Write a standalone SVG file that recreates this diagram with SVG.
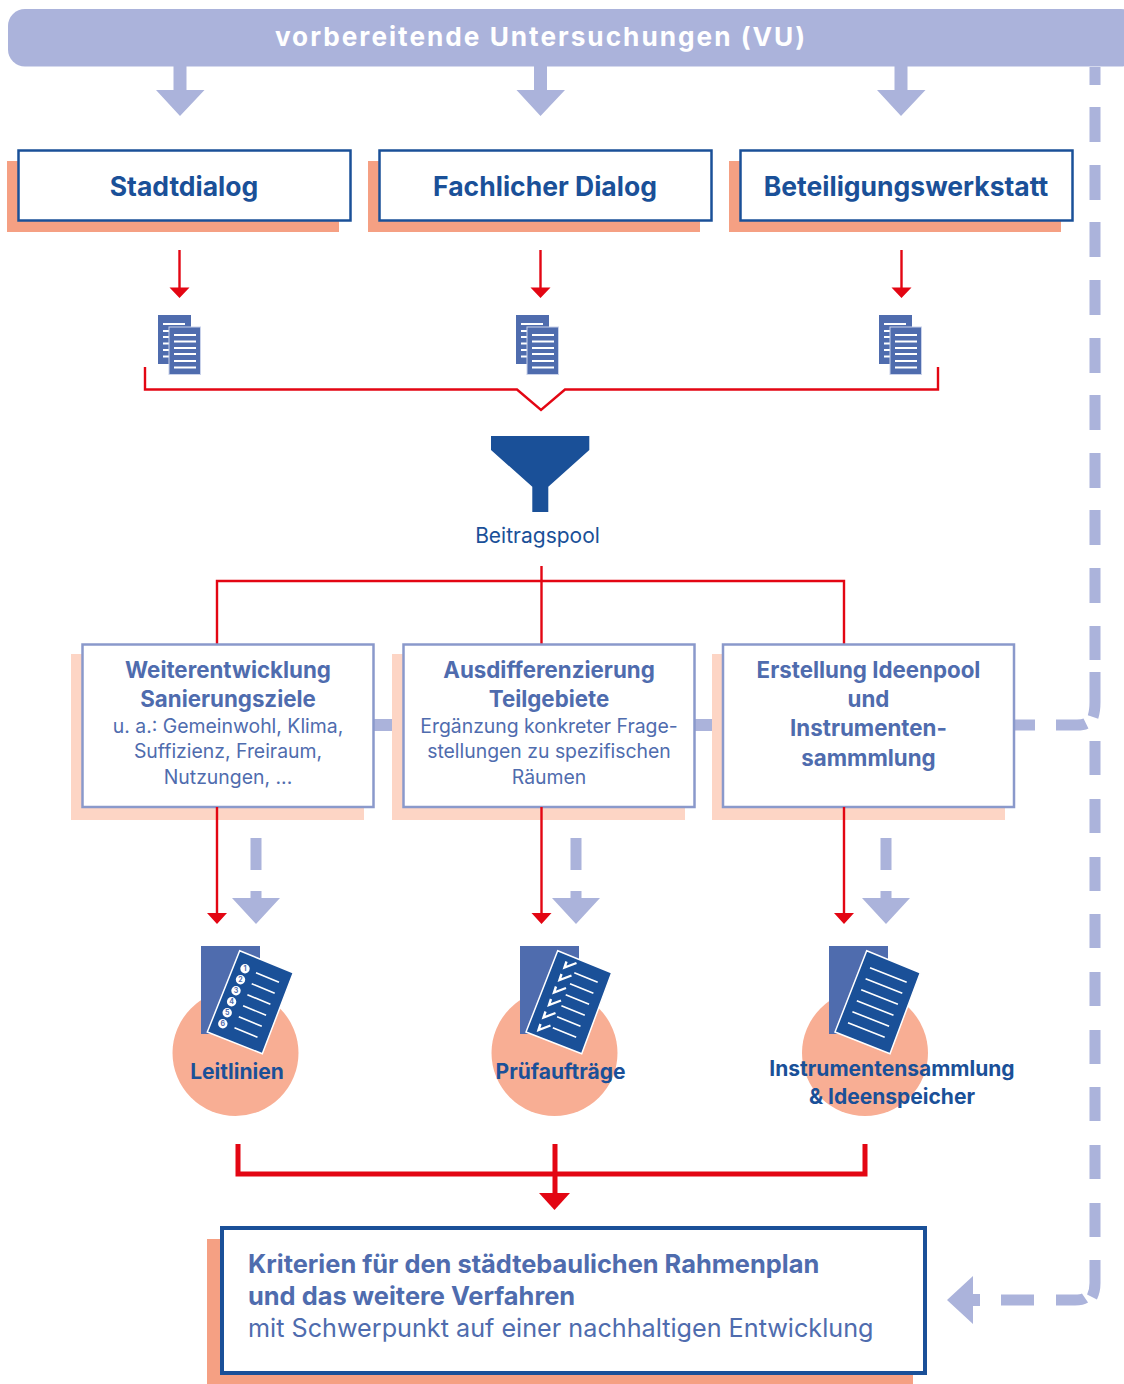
<svg xmlns="http://www.w3.org/2000/svg" width="1124" height="1384" viewBox="0 0 1124 1384">
<style>
text{font-family:Inter,Roboto,"Liberation Sans",sans-serif}
.h{font-weight:700;font-size:26.500px;fill:#1a5098;text-anchor:middle}
.t{font-weight:700;font-size:22.300px;fill:#4f6cae;text-anchor:middle}
.s{font-size:19.400px;fill:#4f6cae;text-anchor:middle}
.l{font-weight:700;font-size:21px;text-anchor:middle;fill:#1a5098}
.k{font-size:25.200px;fill:#4f6cae}
.kb{font-size:25.400px;font-weight:700;fill:#4f6cae}
.g{fill:#abb3db}
.gl{stroke:#abb3db;stroke-width:11;fill:none}
.r{stroke:#e30613;stroke-width:2.400;fill:none}
.rf{fill:#e30613}
.b1{fill:#fff;stroke:#1a5098;stroke-width:2.500}
.b2{fill:#fff;stroke:#8a99cb;stroke-width:2.500}
.so{fill:#f5a083}
.sl{fill:#fdd5c5}
.c{fill:#f8ae94}
.d{fill:#4f6cae}
.dl{stroke:#fff;stroke-width:1.600;fill:none}
.dd{stroke:#fff;stroke-width:2;fill:none}
.p{fill:#1a5098;stroke:#fff;stroke-width:1.500}
.n{font-size:7px;font-weight:700;fill:#4f6cae;text-anchor:middle}
</style>
<defs>
<g id="docs">
<rect class="d" width="33" height="49" x="0" y="0"/>
<path class="dd" d="M5 9h22M5 16h22M5 22h22M5 28.500h22M5 35h22M5 41.500h22"/>
<rect class="d" x="11" y="12" width="31.500" height="47.500" stroke="#c9d2ea" stroke-width="1"/>
<path class="dd" d="M16 20h22M16 26.500h22M16 33h22M16 39h22M16 46h22M16 52.500h22"/>
</g>
<path id="ga" class="g" d="M-6.500 0h13v24h18l-24.500 26-24-26h17.500z"/>
<g id="gb"><rect class="g" x="-5.500" y="0" width="11" height="32"/><path class="g" d="M-5.500 53h11v7h18.500l-24 26-24-26h18.500z"/></g>
</defs>
<g id="connectors">
<use href="#ga" x="180" y="66"/><use href="#ga" x="540.500" y="66"/><use href="#ga" x="901" y="66"/>
<path class="r" d="M179.500 250v40M540.500 250v40M901.500 250v40"/>
<path class="rf" d="M169.500 287.500h20l-10 10.500zM530.500 287.500h20l-10 10.500zM891.500 287.500h20l-10 10.500z"/>
<path class="r" d="M145 367v22.500h372l24 20.500 24-20.500h373V367"/>
<path class="r" d="M541.500 566v78M217 644V581h627v63"/>
<path class="g" d="M373 719h21v12h-21zM694 719h21v12h-21z"/>
<use href="#gb" x="256" y="838"/><use href="#gb" x="576" y="838"/><use href="#gb" x="886" y="838"/>
<path d="M238 1144v30h627v-30M555 1144v52" fill="none" stroke="#e30613" stroke-width="5"/>
<path class="rf" d="M539 1193h31l-15.500 17z"/>
<g id="feedback">
<path class="gl" d="M1095 67v18M1095 107v35M1095 165v35M1095 222v35M1095 280v35M1095 338v35M1095 395v35M1095 453v35M1095 510v35M1095 568v35M1095 626v34M1095 672v30q0 9-2 15M1014 725h21M1056 725h21q6 0 9-1.500M1095 741v34M1095 799v34M1095 857v34M1095 914v34M1095 972v34M1095 1030v34M1095 1087v34M1095 1145v34M1095 1203v34M1095 1260v23q0 8-3 14M1056 1300h19q7 0 10-2M1001 1300h33"/>
<path class="g" d="M947 1300l26-24v18h7v12h-7v18z"/>
</g>
</g>
<g id="top"><rect class="g" x="8" y="9" width="1130" height="57.500" rx="17"/><text x="541" y="46" font-size="26.200" font-weight="700" fill="#fff" text-anchor="middle" letter-spacing="2">vorbereitende Untersuchungen (VU)</text></g>
<g id="stadtdialog"><rect class="so" x="7" y="161" width="332" height="71"/><rect class="b1" x="18.500" y="150.500" width="332" height="70"/><text class="h" x="184" y="196">Stadtdialog</text></g>
<g id="fachdialog"><rect class="so" x="368" y="161" width="332" height="71"/><rect class="b1" x="379.500" y="150.500" width="332" height="70"/><text class="h" x="545" y="196">Fachlicher Dialog</text></g>
<g id="werkstatt"><rect class="so" x="729" y="161" width="332" height="71"/><rect class="b1" x="740.500" y="150.500" width="332" height="70"/><text class="h" x="906" y="196">Beteiligungswerkstatt</text></g>
<g id="docs1"><use href="#docs" x="158" y="315"/></g>
<g id="docs2"><use href="#docs" x="516" y="315"/></g>
<g id="docs3"><use href="#docs" x="879" y="315"/></g>
<g id="pool"><path fill="#1a5098" d="M491 436h98.300v14l-41 36.700V512h-16V486.700L491 450z"/><text x="537.500" y="543" font-size="21" fill="#1a5098" text-anchor="middle">Beitragspool</text></g>
<g id="ziele"><rect class="sl" x="71" y="654" width="293" height="166"/><rect class="b2" x="82.500" y="644.500" width="291" height="162.500"/>
<text class="t" x="228" y="678">Weiterentwicklung</text><text class="t" x="228" y="707">Sanierungsziele</text>
<text class="s" x="228" y="733">u. a.: Gemeinwohl, Klima,</text><text class="s" x="228" y="758">Suffizienz, Freiraum,</text><text class="s" x="228" y="784">Nutzungen, ...</text></g>
<g id="teilgebiete"><rect class="sl" x="392" y="654" width="293" height="166"/><rect class="b2" x="403.500" y="644.500" width="291" height="162.500"/>
<text class="t" x="549" y="678">Ausdifferenzierung</text><text class="t" x="549" y="707">Teilgebiete</text>
<text class="s" x="549" y="733">Ergänzung konkreter Frage-</text><text class="s" x="549" y="758">stellungen zu spezifischen</text><text class="s" x="549" y="784">Räumen</text></g>
<g id="ideenpool"><rect class="sl" x="712" y="654" width="293" height="166"/><rect class="b2" x="723" y="644.500" width="291" height="162.500"/>
<text class="t" x="868.500" y="678">Erstellung Ideenpool</text><text class="t" x="868.500" y="707">und</text><text class="t" x="868.500" y="736">Instrumenten-</text><text class="t" x="868.500" y="766">sammmlung</text></g>
<g id="connectors-lower">
<path class="r" d="M217 807v106M541.500 807v106M844 807v106"/>
<path class="rf" d="M207 913h20l-10 11zM531.500 913h20l-10 11zM834 913h20l-10 11z"/>
</g>
<g id="leitlinien"><circle class="c" cx="235.500" cy="1053" r="63"/><rect class="d" x="201" y="946" width="59" height="88"/>
<path class="p" d="M239.700 950.700L293.300 972.700 262.300 1053.700 207.300 1032z"/>
<path class="dl" d="M256 972.700l23 9.600M251.700 983.700l23 9.600M247.400 994.700l23 9.600M243.100 1005.700l23 9.600M238.800 1016.700l23 9.600M234.500 1027.700l23 9.600"/>
<g fill="#fff"><circle cx="245" cy="968.700" r="4.700"/><circle cx="240.500" cy="979.700" r="4.700"/><circle cx="236" cy="990.700" r="4.700"/><circle cx="231.600" cy="1001.700" r="4.700"/><circle cx="227.200" cy="1012.700" r="4.700"/><circle cx="222.800" cy="1023.700" r="4.700"/></g>
<text class="n" x="245" y="971.200">1</text><text class="n" x="240.500" y="982.200">2</text><text class="n" x="236" y="993.200">3</text><text class="n" x="231.600" y="1004.200">4</text><text class="n" x="227.200" y="1015.200">5</text><text class="n" x="222.800" y="1026.200">6</text>
<text class="l" x="237" y="1079">Leitlinien</text></g>
<g id="pruefauftraege"><circle class="c" cx="554.500" cy="1053" r="63"/><rect class="d" x="520" y="946" width="59" height="88"/>
<path class="p" d="M557.700 950.700L611.700 972.700 581.700 1053.700 526 1032z"/>
<path class="dl" d="M574.300 972.700l23.400 9.600M570 983.700l23.400 9.600M565.700 994.700l23.400 9.600M561.400 1005.700l23.400 9.600M557.100 1016.700l23.400 9.600M552.800 1027.700l23.400 9.600"/>
<path stroke="#fff" stroke-width="2.400" fill="none" d="M566.500 961.500l-2 6 12 -4.500M561.500 974l-2 6 12 -4.500M556 986.500l-2 6 12 -4.500M551 999l-2 6 12 -4.500M545.500 1011.500l-2 6 12 -4.500M540.500 1024l-2 6 12 -4.500"/>
<text class="l" x="560.500" y="1079">Prüfaufträge</text></g>
<g id="instrumente"><circle class="c" cx="865" cy="1053" r="63"/><rect class="d" x="829" y="946" width="59" height="88"/>
<path class="p" d="M866.700 950.700L920.300 972.700 890 1053.700 835 1032z"/>
<path class="dl" d="M870 967.700l36.700 14.600M865.600 978.700l36.700 14.600M861.200 989.700l36.700 14.600M856.800 1000.700l36.700 14.600M852.400 1011.700l36.700 14.600M848 1022.700l36.700 14.600"/>
<text class="l" x="892" y="1076">Instrumentensammlung</text><text class="l" x="892" y="1104">&amp; Ideenspeicher</text></g>
<g id="kriterien"><rect class="so" x="207" y="1239" width="706" height="145"/><rect x="222" y="1228" width="703" height="145" fill="#fff" stroke="#1a5098" stroke-width="4"/>
<text class="kb" x="248" y="1273">Kriterien für den städtebaulichen Rahmenplan</text><text class="kb" x="248" y="1305">und das weitere Verfahren</text><text class="k" x="248" y="1337">mit Schwerpunkt auf einer nachhaltigen Entwicklung</text></g>
</svg>
